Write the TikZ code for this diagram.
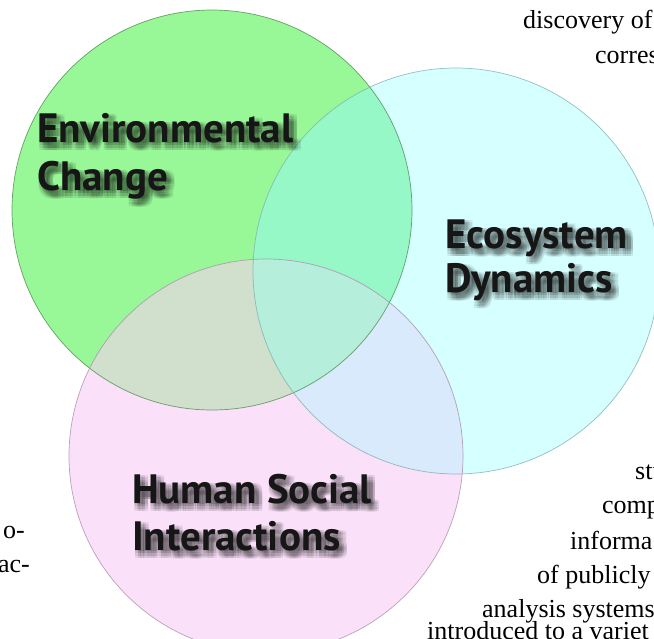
\documentclass[tikz,border=0pt]{standalone}
\usepackage{fontspec}
\setmainfont{Liberation Serif}
\newfontfamily\labelfont{PT Sans}

\definecolor{envfill}{RGB}{152,248,152}
\definecolor{ecofill}{RGB}{214,255,255}
\definecolor{humfill}{RGB}{250,224,249}
\definecolor{envecofill}{RGB}{150,248,198}
\definecolor{envhumfill}{RGB}{208,224,205}
\definecolor{ecohumfill}{RGB}{216,234,252}
\definecolor{allfill}{RGB}{182,238,220}
\definecolor{envline}{RGB}{70,130,70}
\definecolor{ecoline}{RGB}{120,170,170}
\definecolor{humline}{RGB}{165,135,165}
\definecolor{labeltext}{RGB}{22,22,22}

\tikzset{
  lbl/.style={anchor=base west, inner sep=0pt, text=labeltext,
    font=\labelfont\bfseries\fontsize{41}{41}\selectfont},
  body/.style={inner sep=0pt, text=black, font=\fontsize{26}{30}\selectfont},
  ring/.style={line width=0.7pt, draw opacity=0.75}
}

% one label line with a soft drop shadow built from faint offset copies
\newcommand\shadowline[5][]{%
  \foreach \dx/\dy [count=\k] in {0.5/1,3/1,5.5/1,8/1,0.5/3.5,3/3.5,5.5/3.5,8/3.5,
                                  0.5/6,3/6,5.5/6,8/6,0.5/8.5,3/8.5,5.5/8.5,8/8.5}{
    \node[lbl,#1,text=black,text opacity=0.07,xshift=\dx pt,yshift=-\dy pt] (#2-s\k) at (#3,#4) {#5};
  }
  \node[lbl,#1] (#2) at (#3,#4) {#5};
}

\begin{document}
\begin{tikzpicture}[x=1pt,y=-1pt]
\useasboundingbox (0,0) rectangle (654,638);
\clip (0,0) rectangle (654,638);

\def\envc{(212,210) circle[radius=200pt]}
\def\ecoc{(456,271) circle[radius=203pt]}
\def\humc{(266,456) circle[radius=197pt]}

% plain discs
\fill[envfill] \envc;
\fill[ecofill] \ecoc;
\fill[humfill] \humc;

% pairwise overlaps
\begin{scope}\clip \envc; \fill[envecofill] \ecoc; \end{scope}
\begin{scope}\clip \envc; \fill[envhumfill] \humc; \end{scope}
\begin{scope}\clip \ecoc; \fill[ecohumfill] \humc; \end{scope}
% centre where all three meet
\begin{scope}\clip \envc; \clip \ecoc; \fill[allfill] \humc; \end{scope}

% outlines
\draw[ring, envline] \envc;
\draw[ring, ecoline] \ecoc;
\draw[ring, humline] \humc;

% circle labels
\shadowline{envA}{37}{142}{Environmental}
\shadowline{envB}{37}{190}{Change}
\shadowline{ecoA}{445}{248}{Ecosystem}
\shadowline{ecoB}{445}{292}{Dynamics}
\shadowline{humA}{132}{503}{Human Social}
\shadowline{humB}{132}{550}{Interactions}

% running text of the surrounding page
\node[body, anchor=base west] (t1) at (523,28) {discovery of};
\node[body, anchor=base west] (t2) at (595,63) {corres};
\node[body, anchor=base west] (t3) at (635,479) {stu};
\node[body, anchor=base west] (t4) at (602,513) {comp};
\node[body, anchor=base west] (t5) at (570,549) {informa};
\node[body, anchor=base west] (t6) at (537,583) {of publicly};
\node[body, anchor=base west] (t7) at (482,617) {analysis systems};
\node[body, anchor=base west] (t8) at (427,639) {introduced to a variet};
\node[body, anchor=base east] (t9) at (25,538) {o-};
\node[body, anchor=base east] (t10) at (30,572) {ac-};
\end{tikzpicture}
\end{document}
